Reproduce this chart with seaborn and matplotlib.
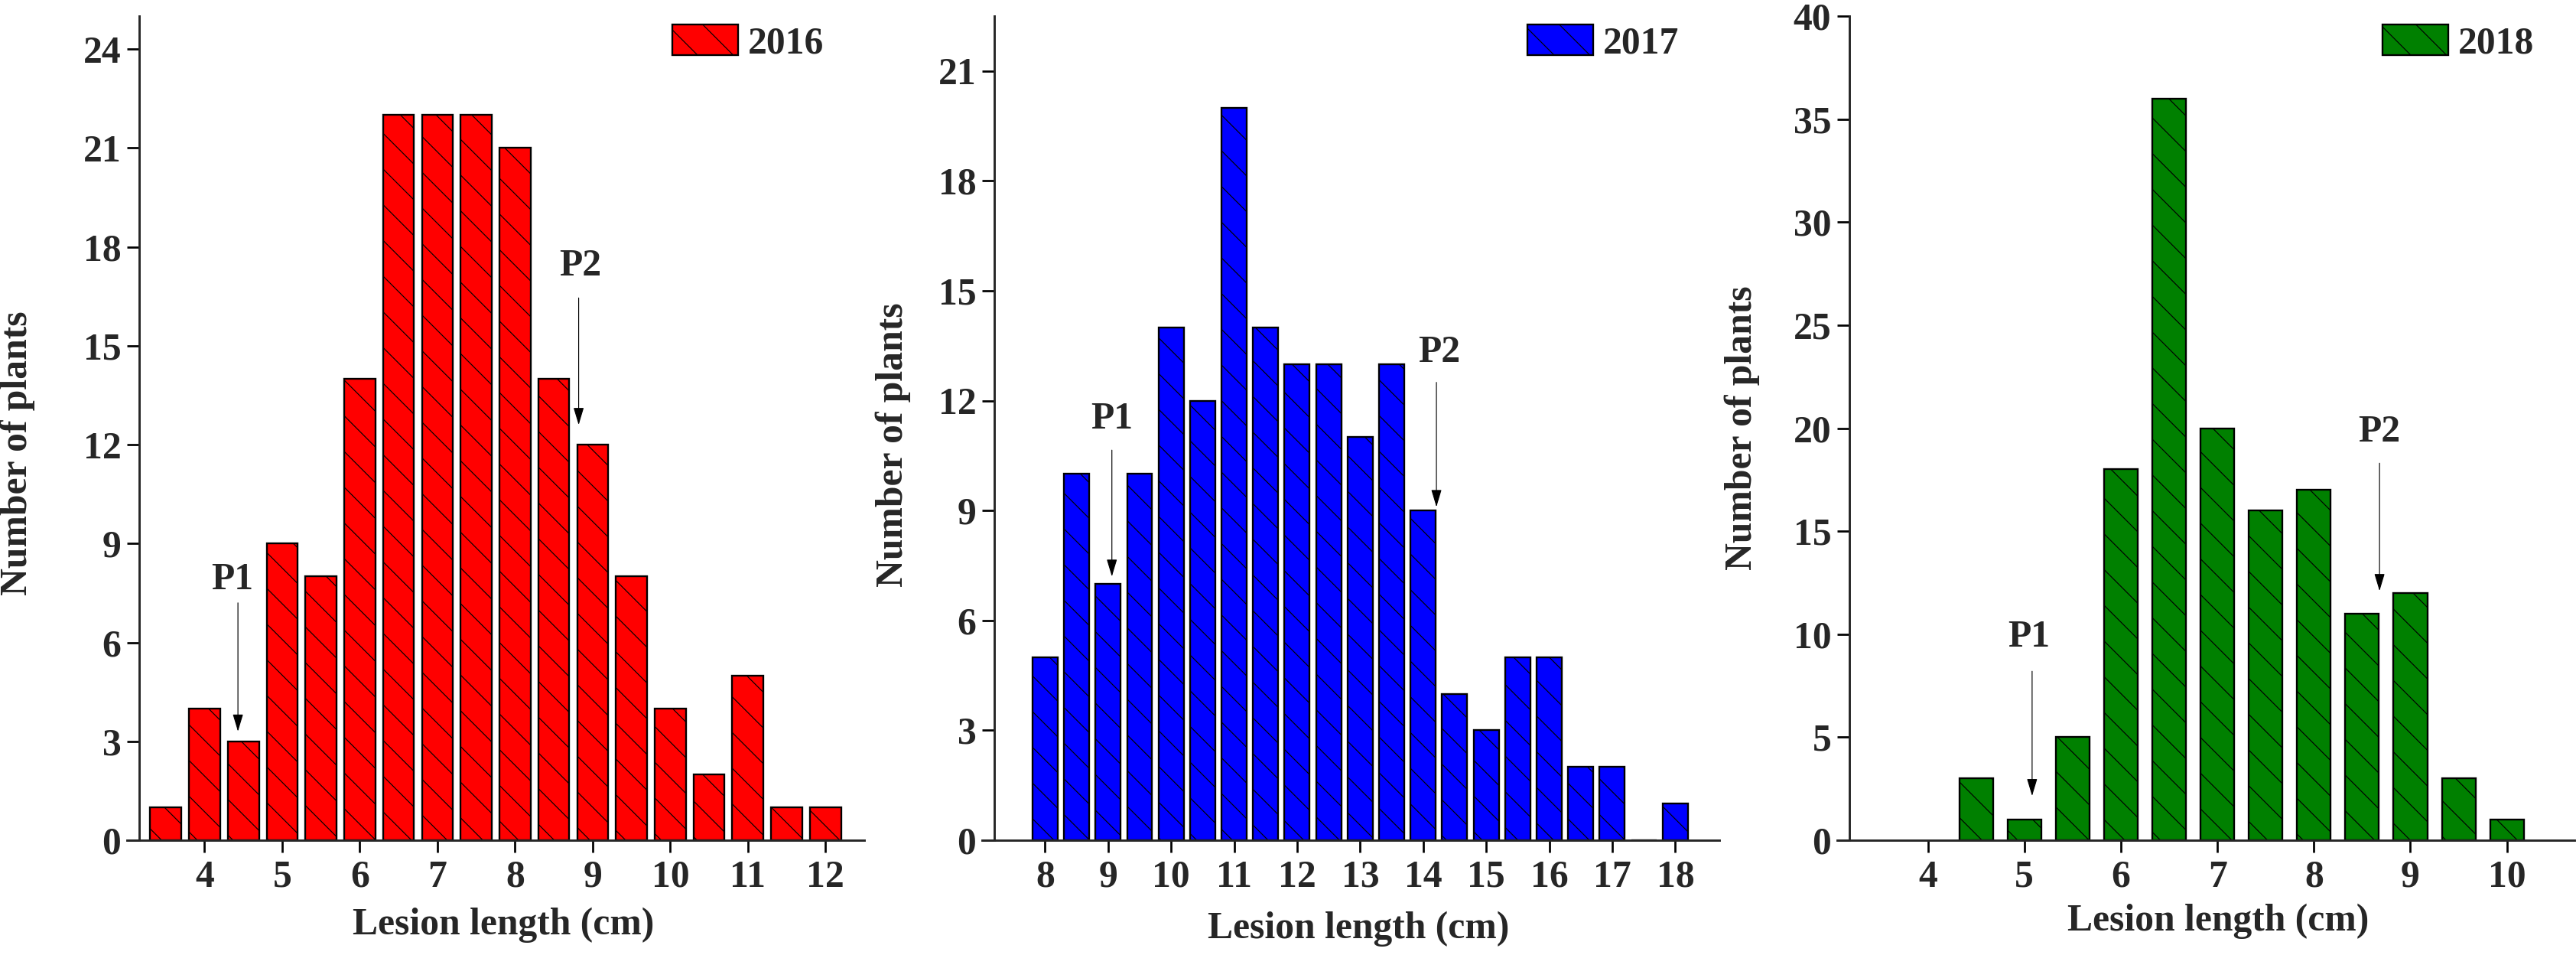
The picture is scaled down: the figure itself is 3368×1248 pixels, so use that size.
import matplotlib
matplotlib.use('Agg')
import matplotlib.pyplot as plt
import pandas as pd
import seaborn as sns

# datos (centro de clase en cm, numero de plantas)
bins_2016 = [3.5, 4, 4.5, 5, 5.5, 6, 6.5, 7, 7.5, 8, 8.5, 9, 9.5, 10, 10.5, 11, 11.5, 12]
counts_2016 = [1, 4, 3, 9, 8, 14, 22, 22, 22, 21, 14, 12, 8, 4, 2, 5, 1, 1]

bins_2017 = [8, 8.5, 9, 9.5, 10, 10.5, 11, 11.5, 12, 12.5, 13, 13.5, 14, 14.5, 15, 15.5, 16, 16.5, 17, 17.5, 18]
counts_2017 = [5, 10, 7, 10, 14, 12, 20, 14, 13, 13, 11, 13, 9, 4, 3, 5, 5, 2, 2, 0, 1]

bins_2018 = [4.5, 5, 5.5, 6, 6.5, 7, 7.5, 8, 8.5, 9, 9.5, 10]
counts_2018 = [3, 1, 5, 18, 36, 20, 16, 17, 11, 12, 3, 1]

years = ['2016', '2017', '2018']
xticks_2016 = [4, 5, 6, 7, 8, 9, 10, 11, 12]
xticks_2017 = [8, 9, 10, 11, 12, 13, 14, 15, 16, 17, 18]
xticks_2018 = [4, 5, 6, 7, 8, 9, 10]
yticks_2016 = [0, 3, 6, 9, 12, 15, 18, 21, 24]
yticks_2017 = [0, 3, 6, 9, 12, 15, 18, 21]
yticks_2018 = [0, 5, 10, 15, 20, 25, 30, 35, 40]

# estilo
sns.set_style('ticks')
plt.rcParams['font.family'] = ['Liberation Serif', 'DejaVu Serif']
plt.rcParams['font.weight'] = 'bold'
plt.rcParams['axes.labelweight'] = 'bold'
plt.rcParams['hatch.linewidth'] = 0.6
plt.rcParams['axes.linewidth'] = 1.5

DPI = 140
FS = 25.5
fig = plt.figure(figsize=(3368 / DPI, 1248 / DPI), dpi=DPI)

panels = [
    dict(bins=bins_2016, counts=counts_2016, color='#FF0000', xlim=(3.0, 12.5), ylim=(0, 25),
         xticks=xticks_2016, yticks=yticks_2016, width=0.8, left=166,
         ylab=(-0.1245, 0.47), xlab=(0.51, -0.0817),
         p1=((4.36, 7.9), (4.43, 7.2), (4.43, 3.3)), p2=((8.84, 17.4), (8.82, 16.45), (8.82, 12.6))),
    dict(bins=bins_2017, counts=counts_2017, color='#0000FF', xlim=(7.0, 18.7), ylim=(0, 22.5),
         xticks=xticks_2017, yticks=yticks_2017, width=0.8, left=1284,
         ylab=(-0.0965, 0.48), xlab=(0.51, -0.0864),
         p1=((9.06, 11.5), (9.06, 10.65), (9.06, 7.2)), p2=((14.26, 13.3), (14.21, 12.5), (14.21, 9.1))),
    dict(bins=bins_2018, counts=counts_2018, color='#008000', xlim=(3.06, 10.7), ylim=(0, 40),
         xticks=xticks_2018, yticks=yticks_2018, width=0.7, left=2402,
         ylab=(-0.105, 0.50), xlab=(0.517, -0.0771),
         p1=((5.05, 9.85), (5.08, 8.2), (5.08, 2.15)), p2=((8.68, 19.8), (8.68, 18.3), (8.68, 12.1))),
]

for year, p in zip(years, panels):
    ax = fig.add_axes([p['left'] / 3368, 150 / 1248, 964 / 3368, 1077 / 1248])
    df = pd.DataFrame({'length': p['bins'], 'plants': p['counts']})
    sns.barplot(data=df, x='length', y='plants', native_scale=True, width=p['width'],
                color=p['color'], saturation=1, edgecolor='black', linewidth=1.2,
                hatch='\\', errorbar=None, label=year, ax=ax)

    ax.set_xlim(p['xlim'])
    ax.set_ylim(p['ylim'])
    ax.set_xticks(p['xticks'])
    ax.set_yticks(p['yticks'])
    ax.spines['top'].set_visible(False)
    ax.spines['right'].set_visible(False)
    ax.spines['left'].set_position(('axes', 16 / 964))
    ax.tick_params(axis='both', direction='out', length=8.2, width=1.4, labelsize=FS, color='black')
    ax.tick_params(axis='x', pad=5)
    ax.tick_params(axis='y', pad=4)

    ax.set_xlabel('Lesion length (cm)', fontsize=FS)
    ax.set_ylabel('Number of plants', fontsize=FS)
    ax.xaxis.set_label_coords(*p['xlab'])
    ax.yaxis.set_label_coords(*p['ylab'])

    # flechas P1 / P2
    for name in ['P1', 'P2']:
        txt, start, end = p[name.lower()]
        ax.text(txt[0], txt[1], name, ha='center', va='center', fontsize=FS)
        ax.annotate('', xy=end, xytext=start,
                    arrowprops=dict(arrowstyle='-|>,head_length=0.5,head_width=0.15',
                                    color='black', lw=0.6, mutation_scale=20,
                                    shrinkA=0, shrinkB=0))

    ax.legend(loc='upper right', bbox_to_anchor=(0.945, 0.99), frameon=False,
              borderpad=0, borderaxespad=0, handlelength=1.73, handleheight=0.87,
              handletextpad=0.26, fontsize=FS)

fig.savefig('out.png', dpi=DPI)
